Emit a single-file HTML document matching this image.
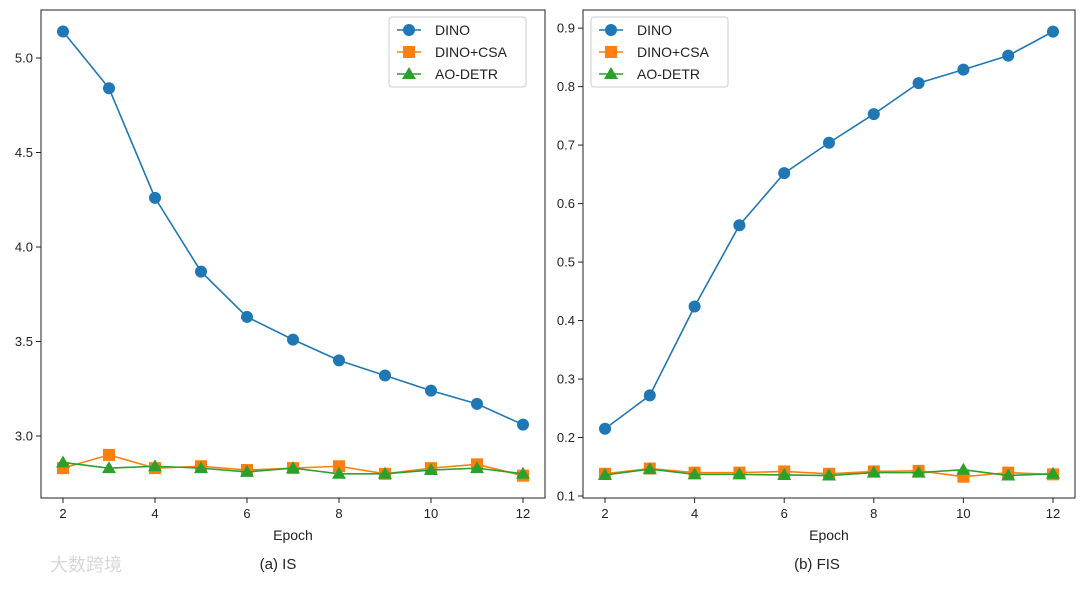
<!DOCTYPE html>
<html><head><meta charset="utf-8"><style>
body{margin:0;background:#fff;font-family:"Liberation Sans","DejaVu Sans",sans-serif}
svg text{font-family:"Liberation Sans","DejaVu Sans",sans-serif;fill:#222}
</style></head><body>
<svg id="s" width="1080" height="585" xmlns="http://www.w3.org/2000/svg"></svg>
<script>
const epochs=[2,3,4,5,6,7,8,9,10,11,12];
const isDino=[5.14,4.84,4.26,3.87,3.63,3.51,3.40,3.32,3.24,3.17,3.06];
const isCsa=[2.83,2.90,2.83,2.84,2.82,2.83,2.84,2.80,2.83,2.85,2.79];
const isAo=[2.86,2.83,2.84,2.83,2.81,2.83,2.80,2.80,2.82,2.83,2.80];
const fisDino=[0.215,0.272,0.424,0.563,0.652,0.704,0.753,0.806,0.829,0.853,0.894];
const fisCsa=[0.138,0.147,0.140,0.140,0.142,0.138,0.142,0.143,0.133,0.140,0.137];
const fisAo=[0.136,0.146,0.137,0.137,0.136,0.135,0.140,0.140,0.145,0.135,0.138];
const xTicks=[2,4,6,8,10,12];
const isTicks=[3.0,3.5,4.0,4.5,5.0];
const fisTicks=[0.1,0.2,0.3,0.4,0.5,0.6,0.7,0.8,0.9];
const svg=document.getElementById('s');
const NS='http://www.w3.org/2000/svg';
function mk(t,a,p){const e=document.createElementNS(NS,t);for(const k in a)e.setAttribute(k,a[k]);(p||svg).appendChild(e);return e;}
function panel(id,L,R,T,B,ymin,ymax,yt,dec,series,caption,capX,legX){
  const g=mk('g',{});
  
  
  const xs=v=>L+22+(v-2)*(R-L-44)/10;
  const ys=v=>B-(v-ymin)*(B-T)/(ymax-ymin);
  series.forEach(s=>{
    const pts=epochs.map((e,i)=>xs(e)+','+ys(s.v[i])).join(' ');
    const pl=mk('polyline',{points:pts,fill:'none',stroke:s.c,'stroke-width':1.6},g);
    
    
    epochs.forEach((e,i)=>{
      const x=xs(e),y=ys(s.v[i]);let m;
      if(s.m==='o')m=mk('circle',{cx:x,cy:y,r:6,fill:s.c},g);
      else if(s.m==='s')m=mk('rect',{x:x-6,y:y-6,width:12,height:12,fill:s.c},g);
      else m=mk('polygon',{points:`${x},${y-7} ${x-7},${y+5} ${x+7},${y+5}`,fill:s.c},g);
      
      
    });
  });
  const fr=mk('rect',{x:L,y:T,width:R-L,height:B-T,fill:'none',stroke:'#222','stroke-width':1},g);
  
  
  xTicks.forEach(t=>{const x=xs(t);mk('line',{x1:x,x2:x,y1:B,y2:B+5,stroke:'#222'},g);
    const tx=mk('text',{x:x,y:B+20,'text-anchor':'middle','font-size':13},g);tx.textContent=t;
    });
  yt.forEach(t=>{const y=ys(t);mk('line',{x1:L-5,x2:L,y1:y,y2:y,stroke:'#222'},g);
    const tx=mk('text',{x:L-8,y:y+4.5,'text-anchor':'end','font-size':13},g);tx.textContent=t.toFixed(dec);
    });
  const xl=mk('text',{x:(L+R)/2,y:B+42,'text-anchor':'middle','font-size':14},g);xl.textContent='Epoch';
  
  const cp=mk('text',{x:capX,y:569,'text-anchor':'middle','font-size':15},g);cp.textContent=caption;
  
  const lg=mk('g',{},g);
  mk('rect',{x:legX,y:T+7,width:137,height:70,rx:3,fill:'#fff',stroke:'#ccc'},lg);
  series.forEach((s,i)=>{const y=T+20+i*22;const x=legX+20;
    mk('line',{x1:x-12,x2:x+12,y1:y,y2:y,stroke:s.c,'stroke-width':1.6},lg);
    if(s.m==='o')mk('circle',{cx:x,cy:y,r:6,fill:s.c},lg);
    else if(s.m==='s')mk('rect',{x:x-6,y:y-6,width:12,height:12,fill:s.c},lg);
    else mk('polygon',{points:`${x},${y-7} ${x-7},${y+5} ${x+7},${y+5}`,fill:s.c},lg);
    const t=mk('text',{x:legX+46,y:y+5,'font-size':14},lg);t.textContent=s.label;
    });
}
const C=['#1f77b4','#ff7f0e','#2ca02c'];
panel('is',41,545,10,498,2.672,5.254,isTicks,1,[
 {n:'dino',v:isDino,c:C[0],m:'o',label:'DINO'},
 {n:'csa',v:isCsa,c:C[1],m:'s',label:'DINO+CSA'},
 {n:'ao',v:isAo,c:C[2],m:'^',label:'AO-DETR'}],'(a) IS',278,389);
panel('fis',583,1075,10,498,0.0966,0.931,fisTicks,1,[
 {n:'dino',v:fisDino,c:C[0],m:'o',label:'DINO'},
 {n:'csa',v:fisCsa,c:C[1],m:'s',label:'DINO+CSA'},
 {n:'ao',v:fisAo,c:C[2],m:'^',label:'AO-DETR'}],'(b) FIS',817,591);
const wm=mk('text',{x:50,y:571,'font-size':18,fill:'#ddd'});
wm.setAttribute('style','fill:#d8d8d8;font-family:"Liberation Sans","Noto Sans CJK SC",sans-serif');
wm.textContent='大数跨境';


</script>
</body></html>
